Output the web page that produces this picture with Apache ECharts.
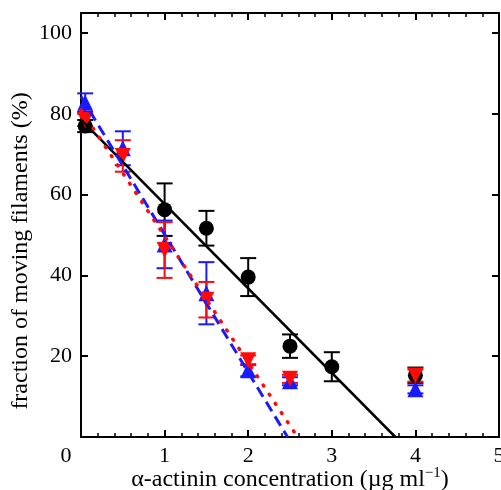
<!DOCTYPE html>
<html>
<head>
<meta charset="utf-8">
<script src="https://cdn.jsdelivr.net/npm/echarts@6/dist/echarts.min.js"></script>
<style>html,body{margin:0;padding:0;background:#fff}#c{width:501px;height:490px}</style>
</head>
<body>
<div id="c"></div>
<script>
// concentrations (µg/ml)
const blackX = [0.05, 1, 1.5, 2, 2.5, 3, 4];
const blackY = [77, 56.3, 51.7, 39.6, 22.5, 17.4, 15.3];
const blackErr = [1.5, 6.5, 4.3, 4.7, 2.9, 3.6, 1.9];

const blueX = [0.05, 0.5, 1, 1.5, 2, 2.5, 4];
const blueY = [82.8, 71.5, 47.7, 35.6, 16.5, 13.8, 11.8];
const blueErr = [2.3, 4.2, 5.9, 7.7, 1.5, 1, 1];

const redX = [0.05, 0.5, 1, 1.5, 2, 2.5, 4];
const redY = [78.5, 69.6, 46.3, 34, 19, 14.4, 15.2];
const redErr = [1.5, 3.9, 6.9, 4.4, 1.2, 1, 1.5];

// linear fits, endpoints
const blackFit = [[0, 78.6], [3.76, 0]];
const blueFit = [[0, 84.3], [2.47, 0]];
const redFit = [[0, 81], [2.59, 0]];

const xTicks = [0, 1, 2, 3, 4, 5];
const yTicks = [20, 40, 60, 80, 100];

const FONT = 'Liberation Serif';
const BLACK = '#000000', BLUE = '#1a1aff', RED = '#ff0a0a';

function pts(xs, ys) { return xs.map((x, i) => [x, ys[i]]); }
function errs(xs, ys, es) { return xs.map((x, i) => [x, ys[i] - es[i], ys[i] + es[i]]); }

function errRender(color) {
  return function (params, api) {
    const x = api.value(0);
    const lo = api.coord([x, api.value(1)]);
    const hi = api.coord([x, api.value(2)]);
    const hw = 8;
    const style = { stroke: color, lineWidth: 2 };
    return {
      type: 'group',
      children: [
        { type: 'line', shape: { x1: lo[0], y1: lo[1], x2: hi[0], y2: hi[1] }, style },
        { type: 'line', shape: { x1: lo[0] - hw, y1: lo[1], x2: lo[0] + hw, y2: lo[1] }, style },
        { type: 'line', shape: { x1: hi[0] - hw, y1: hi[1], x2: hi[0] + hw, y2: hi[1] }, style }
      ]
    };
  };
}

const chart = echarts.init(document.getElementById('c'), null, { renderer: 'canvas' });

const axisCommon = {
  type: 'value', min: 0, max: 5, interval: 1,
  axisLine: { show: true, onZero: false, lineStyle: { color: BLACK, width: 2 } },
  axisTick: { show: true, inside: true, length: 7, lineStyle: { color: BLACK, width: 2 } },
  minorTick: { show: true, splitNumber: 5, length: 4, lineStyle: { color: BLACK, width: 1.5 } },
  splitLine: { show: false }
};

chart.setOption({
  animation: false,
  backgroundColor: '#fff',
  grid: { left: 81, right: 2, top: 13, bottom: 53, containLabel: false, outerBoundsMode: 'none' },
  xAxis: [
    Object.assign({}, axisCommon, {
      position: 'bottom',
      name: 'α-actinin concentration ({u|µ}g ml{sup|−1})',
      nameLocation: 'middle',
      nameMoveOverlap: false,
      nameGap: 29,
      nameTextStyle: {
        fontFamily: FONT, fontSize: 24, color: BLACK,
        rich: {
          u: { fontFamily: FONT, fontSize: 24, color: BLACK },
          sup: { fontFamily: FONT, fontSize: 15, color: BLACK, padding: [0, 0, 12, 0] }
        }
      },
      axisLabel: {
        show: true, margin: 8, fontFamily: FONT, fontSize: 22, color: BLACK,
        showMaxLabel: true, showMinLabel: true,
        formatter: function (v) { return xTicks.indexOf(v) === 0 ? '{z|' + v + '}' : String(v); },
        rich: { z: { fontFamily: FONT, fontSize: 22, color: BLACK, padding: [0, 30, 0, 0] } }
      }
    }),
    Object.assign({}, axisCommon, { position: 'top', axisLabel: { show: false } })
  ],
  yAxis: [
    {
      type: 'value', min: 0, max: 105, interval: 20, position: 'left',
      axisLine: { show: true, onZero: false, lineStyle: { color: BLACK, width: 2 } },
      axisTick: { show: true, inside: true, length: 7, lineStyle: { color: BLACK, width: 2 } },
      splitLine: { show: false },
      axisLabel: {
        margin: 9, fontFamily: FONT, fontSize: 22, color: BLACK, showMaxLabel: false,
        formatter: function (v) { return yTicks.indexOf(v) >= 0 ? String(v) : ''; }
      },
      name: 'fraction of moving filaments (%)',
      nameLocation: 'middle',
      nameMoveOverlap: false,
      nameGap: 48,
      nameTextStyle: { fontFamily: FONT, fontSize: 24, color: BLACK, padding: [0, 52, 0, 0] }
    },
    {
      type: 'value', min: 0, max: 105, interval: 20, position: 'right',
      axisLine: { show: true, onZero: false, lineStyle: { color: BLACK, width: 2 } },
      axisTick: { show: true, inside: true, length: 7, lineStyle: { color: BLACK, width: 2 } },
      splitLine: { show: false },
      axisLabel: { show: false }
    }
  ],
  series: [
    { type: 'custom', renderItem: errRender(BLACK), data: errs(blackX, blackY, blackErr), encode: { x: 0, y: [1, 2] }, z: 2, clip: false },
    { type: 'custom', renderItem: errRender(BLUE), data: errs(blueX, blueY, blueErr), encode: { x: 0, y: [1, 2] }, z: 2, clip: false },
    { type: 'custom', renderItem: errRender(RED), data: errs(redX, redY, redErr), encode: { x: 0, y: [1, 2] }, z: 2, clip: false },
    { type: 'scatter', data: pts(blackX, blackY), symbol: 'circle', symbolSize: 15, itemStyle: { color: BLACK, opacity: 1 }, z: 3 },
    { type: 'scatter', data: pts(blueX, blueY), symbol: 'triangle', symbolSize: 16, itemStyle: { color: BLUE, opacity: 1 }, z: 3 },
    { type: 'scatter', data: pts(redX, redY), symbol: 'triangle', symbolRotate: 180, symbolSize: 16, itemStyle: { color: RED, opacity: 1 }, z: 3 },
    { type: 'line', data: blackFit, showSymbol: false, symbol: 'none', lineStyle: { color: BLACK, width: 2.5, type: 'solid' }, z: 4 },
    { type: 'line', data: blueFit, showSymbol: false, symbol: 'none', lineStyle: { color: BLUE, width: 3, type: [11, 6] }, z: 4 },
    { type: 'line', data: redFit, showSymbol: false, symbol: 'none', lineStyle: { color: RED, width: 3.5, type: [1, 10], cap: 'round' }, z: 4 }
  ]
});
</script>
</body>
</html>
